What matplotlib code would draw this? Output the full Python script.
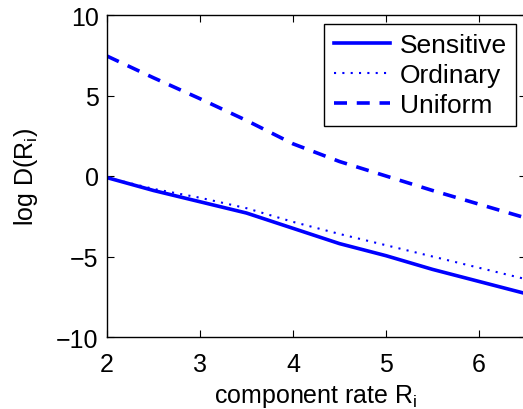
import matplotlib
matplotlib.use("Agg")
import matplotlib.pyplot as plt

plt.rcParams['font.family'] = ['Liberation Sans', 'DejaVu Sans']
plt.rcParams['mathtext.fontset'] = 'custom'
plt.rcParams['mathtext.rm'] = 'Liberation Sans'

rate = [2.0, 2.5, 3.0, 3.5, 4.0, 4.5, 5.0, 5.5, 6.0, 6.5]
sensitive = [-0.1, -0.9, -1.6, -2.3, -3.25, -4.2, -4.95, -5.8, -6.55, -7.3]
ordinary = [-0.1, -0.8, -1.35, -2.0, -2.85, -3.6, -4.3, -5.0, -5.7, -6.4]
uniform = [7.45, 6.1, 4.8, 3.45, 2.0, 0.9, 0.0, -0.9, -1.75, -2.6]

fig = plt.figure(figsize=(5.23, 4.10), dpi=100)
ax = fig.add_axes([107/523, 72/410, 418.5/523, 322/410])

ax.plot(rate, sensitive, '-', color='#0000ff', lw=2.6, label='Sensitive')
ax.plot(rate, ordinary, color='#0000ff', lw=1.5, dashes=(1, 3.0), label='Ordinary')
ax.plot(rate, uniform, color='#0000ff', lw=2.6, dashes=(3.6, 2.7), label='Uniform')

ax.set_xlim(2, 6.5)
ax.set_ylim(-10, 10)
ax.set_xticks([2, 3, 4, 5, 6])
ax.set_yticks([-10, -5, 0, 5, 10])
ax.tick_params(direction='in', top=True, right=True, labelsize=18, length=5, width=0.8)
ax.tick_params(axis='x', pad=11)
ax.tick_params(axis='y', pad=6)
ax.set_yticklabels(['\u221210', '\u22125', '0', '5', '10'])
for s in ax.spines.values():
    s.set_linewidth(1.0)

ax.set_xlabel('component rate R$_{\\mathregular{i}}$', fontsize=18, labelpad=4)
ax.set_ylabel('log D(R$_{\\mathregular{i}}$)', fontsize=18, labelpad=12)

leg = ax.legend(loc='upper right', bbox_to_anchor=((516 - 107) / 418.5, 1 - 9 / 322),
                bbox_transform=ax.transAxes,
                fontsize=19, frameon=True, fancybox=False, framealpha=1, edgecolor='black',
                handlelength=2.15, handletextpad=0.35, borderpad=0.35, labelspacing=0.22,
                borderaxespad=0)
leg.get_frame().set_linewidth(1.0)

fig.savefig('out.png', dpi=100)
